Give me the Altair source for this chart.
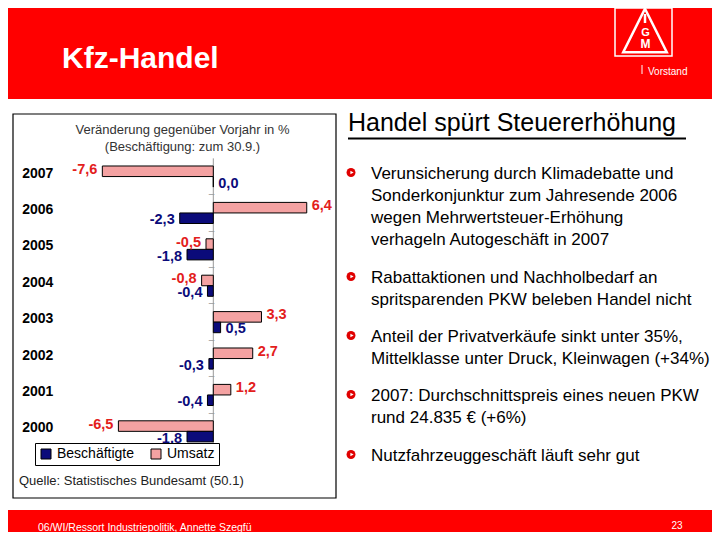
import altair as alt
import pandas as pd

# ---------------- data ----------------
years = ["2007", "2006", "2005", "2004", "2003", "2002", "2001", "2000"]
umsatz = [-7.6, 6.4, -0.5, -0.8, 3.3, 2.7, 1.2, -6.5]
beschaeftigte = [0.0, -2.3, -1.8, -0.4, 0.5, -0.3, -0.4, -1.8]
series_names = ["Beschäftigte", "Umsatz"]

slide_title = "Kfz-Handel"
logo_caption = "Vorstand"
chart_title_lines = ["Veränderung gegenüber Vorjahr in %", "(Beschäftigung: zum 30.9.)"]
source_note = "Quelle: Statistisches Bundesamt (50.1)"
heading = "Handel spürt Steuererhöhung"
bullets = [
    ["Verunsicherung durch Klimadebatte und",
     "Sonderkonjunktur zum Jahresende 2006",
     "wegen Mehrwertsteuer-Erhöhung",
     "verhageln Autogeschäft in 2007"],
    ["Rabattaktionen und Nachholbedarf an",
     "spritsparenden PKW beleben Handel nicht"],
    ["Anteil der Privatverkäufe sinkt unter 35%,",
     "Mittelklasse unter Druck, Kleinwagen (+34%)"],
    ["2007: Durchschnittspreis eines neuen PKW",
     "rund 24.835 € (+6%)"],
    ["Nutzfahrzeuggeschäft läuft sehr gut"],
]
footer_left = "06/WI/Ressort Industriepolitik, Annette Szegfü"
page_number = "23"

# ---------------- styles ----------------
F = "Liberation Sans, Arial, sans-serif"
RED = "#ff0000"
LABEL_RED = "#e3201c"
NAVY = "#0b0b7a"
PINK = "#f4a2a2"
W, H = 704, 524
Y0, Y1 = 150.35, 441.55

rows = []
for yr, u, b in zip(years, umsatz, beschaeftigte):
    rows.append({"year": yr, "series": "Umsatz", "value": u})
    rows.append({"year": yr, "series": "Beschäftigte", "value": b})
df = pd.DataFrame(rows)
df["label"] = df["value"].map(lambda v: f"{v:.1f}".replace(".", ","))

dummy = pd.DataFrame({"d": [0]})


def txt(text, x, y, font=F, **kw):
    return alt.Chart(dummy).mark_text(text=text, font=font, **kw).encode(
        x=alt.value(x), y=alt.value(y))


def rect(x, x2, y, y2, **kw):
    return alt.Chart(dummy).mark_rect(**kw).encode(
        x=alt.value(x), x2=alt.value(x2), y=alt.value(y), y2=alt.value(y2))


def hrule(x, x2, y, **kw):
    return alt.Chart(dummy).mark_rule(**kw).encode(
        x=alt.value(x), x2=alt.value(x2), y=alt.value(y))


def vrule(x, y, y2, **kw):
    return alt.Chart(dummy).mark_rule(**kw).encode(
        x=alt.value(x), y=alt.value(y), y2=alt.value(y2))


layers = []
# header / footer bands
layers.append(rect(0, W, 0, 91, color=RED))
layers.append(rect(0, W, 502, H, color=RED))
layers.append(txt(slide_title, 54, 60.3, fontSize=30, fontWeight="bold",
                  color="white", align="left", baseline="alphabetic"))
# logo
layers.append(rect(607, 664, 0, 48, filled=False, stroke="white", strokeWidth=1.5))
layers.append(alt.Chart(dummy).mark_point(
    shape="M0,-1L1,1L-1,1Z", size=1900, filled=False, stroke="white",
    strokeWidth=2.5, opacity=1).encode(x=alt.value(637), y=alt.value(22.5)))
layers.append(vrule(637, 6, 15, color="white", strokeWidth=2.5))
layers.append(txt("G", 637.5, 24.5, fontSize=11, fontWeight="bold", color="white",
                  align="center", baseline="middle"))
layers.append(txt("M", 637.5, 36, fontSize=12, fontWeight="bold", color="white",
                  align="center", baseline="middle"))
layers.append(vrule(634, 57, 66, color="white", strokeWidth=1))
layers.append(txt(logo_caption, 640, 63.5, fontSize=10, color="white",
                  align="left", baseline="middle"))
# footer texts
layers.append(txt(footer_left, 30, 520, fontSize=10.5, color="white",
                  align="left", baseline="middle"))
layers.append(txt(page_number, 669, 518, fontSize=10, color="white",
                  align="center", baseline="middle"))

# right column
layers.append(txt(heading, 340, 122.7, fontSize=25, color="black",
                  align="left", baseline="alphabetic"))
layers.append(hrule(340, 678, 130.5, color="black", strokeWidth=2))
base_lines = [[171, 193, 215, 237], [275, 297], [334, 356], [393, 415], [453]]
for lines, bls in zip(bullets, base_lines):
    cy = bls[0] - 6.5
    layers.append(alt.Chart(dummy).mark_point(
        shape="circle", size=80, filled=True, color="#e00000", opacity=1
    ).encode(x=alt.value(343), y=alt.value(cy)))
    layers.append(alt.Chart(dummy).mark_point(
        shape="triangle-right", size=14, filled=True, color="white", opacity=1
    ).encode(x=alt.value(344), y=alt.value(cy)))
    for line, bl in zip(lines, bls):
        layers.append(txt(line, 363, bl, fontSize=17, color="black",
                          align="left", baseline="alphabetic"))

# chart frame and texts
layers.append(rect(5, 328, 106, 490, filled=False, stroke="black", strokeWidth=1.2))
layers.append(txt(chart_title_lines[0], 174.5, 122, fontSize=13, color="#333333",
                  align="center", baseline="middle"))
layers.append(txt(chart_title_lines[1], 174.5, 139, fontSize=13, color="#333333",
                  align="center", baseline="middle"))
layers.append(txt(source_note, 11, 473, fontSize=13, color="#222222",
                  align="left", baseline="middle"))
# zero axis line
layers.append(vrule(205.3, Y0, Y1, color="#999999", strokeWidth=1))

# bar chart scales
x_scale = alt.Scale(domain=[-8, 7], range=[88.5, 307.5], nice=False)
y_scale = alt.Scale(domain=years, range=[Y0, Y1], paddingInner=0, paddingOuter=0)
x_enc = alt.X("value:Q", stack=None, axis=None, scale=x_scale)
y_enc = alt.Y("year:N", sort=years, title=None, axis=None, scale=y_scale)
yoff = alt.YOffset("series:N", sort=["Umsatz", "Beschäftigte"],
                   scale=alt.Scale(domain=["Umsatz", "Beschäftigte"],
                                   paddingInner=0, paddingOuter=0.725))
first_series = "datum.series == 'Umsatz'"

# category boundary ticks (small dashes left of the zero line)
layers.append(alt.Chart(df).transform_filter(
    first_series + " && datum.year != '" + years[0] + "'").mark_text(
    text="–", align="right", baseline="middle", font=F, fontSize=10,
    color="#999999", dx=1, dy=-13.5).encode(
    y=y_enc, yOffset=yoff, x=alt.value(205.3)))
# year labels
layers.append(alt.Chart(df).transform_filter(first_series).mark_text(
    align="right", baseline="middle", font=F, fontSize=14, fontWeight="bold",
    color="black", dy=2.3).encode(
    y=y_enc, yOffset=yoff, x=alt.value(45.3), text="year:N"))

bars = alt.Chart(df).mark_bar(stroke="black", strokeWidth=1).encode(
    x=x_enc, x2=alt.datum(0), y=y_enc, yOffset=yoff,
    color=alt.Color("series:N",
                    scale=alt.Scale(domain=series_names, range=[NAVY, PINK]),
                    legend=alt.Legend(orient="none", legendX=27, legendY=435,
                                      direction="horizontal", title=None,
                                      strokeColor="black", fillColor="white",
                                      padding=4, symbolType="square",
                                      symbolSize=100, symbolStrokeColor="black",
                                      symbolStrokeWidth=1, labelFont=F,
                                      labelFontSize=14, labelColor="black",
                                      columnPadding=14, labelOffset=4)))
layers.append(bars)

# value labels: one layer per series and sign
for ser, col, dy in [("Umsatz", LABEL_RED, -1.5), ("Beschäftigte", NAVY, 2)]:
    for cond, align, dx in [("datum.value < 0", "right", -5), ("datum.value >= 0", "left", 5)]:
        layers.append(alt.Chart(df).transform_filter(
            f"datum.series == '{ser}' && {cond}").mark_text(
            align=align, dx=dx, dy=dy, font=F, fontSize=14.5, fontWeight="bold",
            baseline="middle", color=col
        ).encode(x=x_enc, y=y_enc, yOffset=yoff, text="label:N"))

chart = alt.layer(*layers).properties(
    width=W, height=H, padding=0,
    autosize=alt.AutoSizeParams(type="none"),
).configure_view(strokeWidth=0)

chart.save("out.html", embed_options={"renderer": "svg", "actions": False})
